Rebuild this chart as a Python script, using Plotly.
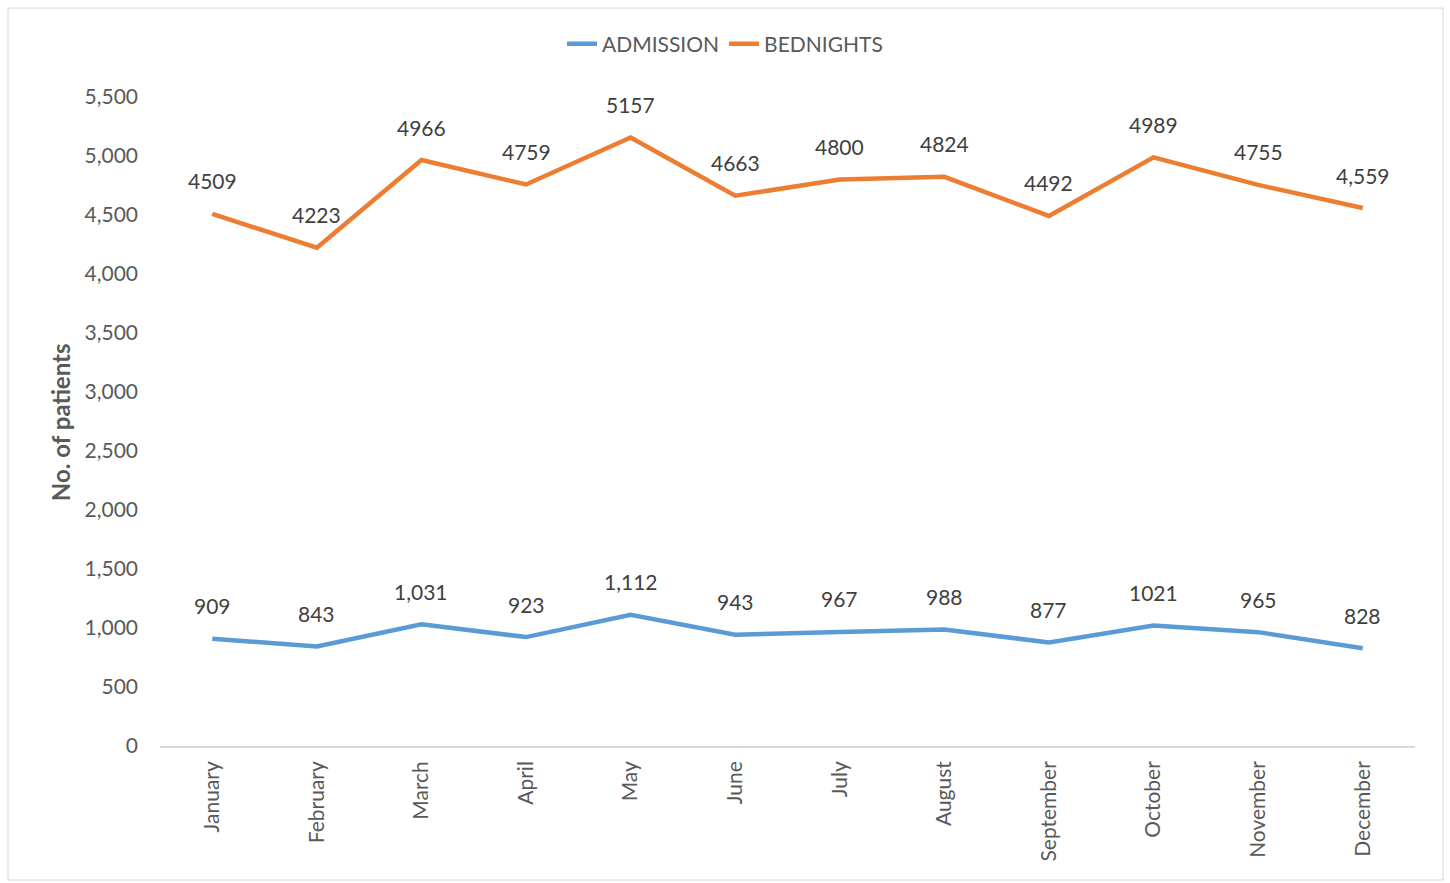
import plotly.graph_objects as go

months = ["January", "February", "March", "April", "May", "June", "July",
          "August", "September", "October", "November", "December"]
admission = [909, 843, 1031, 923, 1112, 943, 967, 988, 877, 1021, 965, 828]
admission_labels = ["909", "843", "1,031", "923", "1,112", "943", "967", "988",
                    "877", "1021", "965", "828"]
bednights = [4509, 4223, 4966, 4759, 5157, 4663, 4800, 4824, 4492, 4989, 4755, 4559]
bednights_labels = ["4509", "4223", "4966", "4759", "5157", "4663", "4800", "4824",
                    "4492", "4989", "4755", "4,559"]
y_ticks = list(range(0, 5501, 500))
y_tick_labels = [f"{v:,}" for v in y_ticks]

FONT = "Lato, 'Open Sans', sans-serif"
TXT = "#595959"
LBL = "#404040"

fig = go.Figure()
fig.add_trace(go.Scatter(
    x=months, y=admission, name="ADMISSION", mode="lines",
    line=dict(color="#5B9BD5", width=4.5),
))
fig.add_trace(go.Scatter(
    x=months, y=bednights, name="BEDNIGHTS", mode="lines",
    line=dict(color="#ED7D31", width=4.5),
))

annotations = []
for series, labels in ((admission, admission_labels), (bednights, bednights_labels)):
    for m, v, t in zip(months, series, labels):
        annotations.append(dict(x=m, y=v, text=t, showarrow=False, xref="x", yref="y",
                                yanchor="middle", yshift=33,
                                font=dict(size=21, color=LBL, family=FONT)))
annotations.append(dict(x=-0.0797, y=0.499, xref="paper", yref="paper",
                        text="<b>No. of patients</b>", textangle=-90, showarrow=False,
                        xanchor="center", yanchor="middle",
                        font=dict(size=24, color=TXT, family=FONT)))

fig.update_layout(
    width=1450, height=883,
    paper_bgcolor="white", plot_bgcolor="white",
    margin=dict(l=160, r=35, t=97, b=137, autoexpand=False),
    font=dict(family=FONT, color=TXT, size=21),
    showlegend=True,
    legend=dict(orientation="h", x=0.5, xanchor="center", xref="container",
                y=1 - 44 / 883, yanchor="middle", yref="container",
                font=dict(size=21, color=TXT, family=FONT)),
    xaxis=dict(
        range=[-0.5, 11.5],
        showgrid=False, showline=True, linecolor="#D9D9D9", linewidth=1.5,
        tickangle=-90, ticks="", automargin=False, ticklabelstandoff=5,
        tickfont=dict(size=21, color=TXT, family=FONT),
    ),
    yaxis=dict(
        range=[0, 5500], tickvals=y_ticks, ticktext=y_tick_labels,
        showgrid=False, zeroline=False, showline=False, ticks="", automargin=False,
        ticklabelstandoff=21,
        tickfont=dict(size=21, color=TXT, family=FONT),
    ),
    annotations=annotations,
    shapes=[dict(type="rect", xref="paper", yref="paper",
                 x0=-0.1211, x1=1.0223, y0=-0.2065, y1=1.137,
                 line=dict(color="#D9D9D9", width=1))],
)

fig.write_html("out.html", config={"displayModeBar": False},
               post_script="document.body.style.margin='0';")
